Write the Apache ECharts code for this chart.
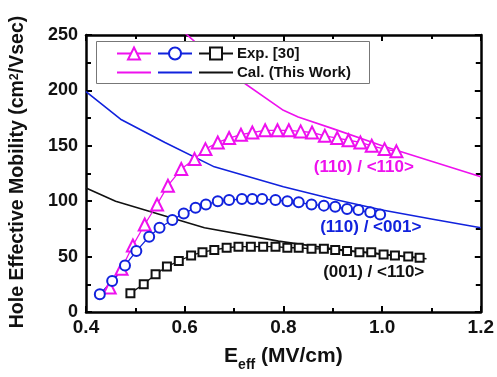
<!DOCTYPE html>
<html>
<head>
<meta charset="utf-8">
<script src="https://cdn.jsdelivr.net/npm/echarts@6/dist/echarts.min.js"></script>
<style>
  html, body { margin: 0; padding: 0; background: #fff; }
  #chart { width: 497px; height: 377px; }
</style>
</head>
<body>
<div id="chart"></div>
<script>
// Exp. [30] data: Eeff (MV/cm) and mobility (cm2/Vsec)
const exp110_110_E = [0.448, 0.472, 0.495, 0.519, 0.544, 0.566, 0.593, 0.620, 0.642, 0.667, 0.690, 0.714, 0.737, 0.763, 0.788, 0.811, 0.835, 0.858, 0.884, 0.909, 0.932, 0.956, 0.979, 1.005, 1.029];
const exp110_110_mu = [22, 39, 60, 79, 97, 114, 129, 138, 147, 153, 157, 160, 162, 164, 164, 164, 163, 162, 159, 157, 155, 153, 150, 147, 145];

const exp110_001_E = [0.428, 0.453, 0.479, 0.502, 0.528, 0.549, 0.575, 0.598, 0.622, 0.643, 0.667, 0.690, 0.716, 0.737, 0.757, 0.784, 0.808, 0.831, 0.857, 0.882, 0.905, 0.929, 0.952, 0.976, 0.996];
const exp110_001_mu = [16, 28, 42, 55, 68, 76, 83, 89, 94, 97, 100, 101, 102, 102, 102, 101, 100, 99, 97, 96, 95, 93, 92, 90, 88];

const exp001_110_E = [0.490, 0.517, 0.541, 0.564, 0.588, 0.613, 0.636, 0.660, 0.685, 0.709, 0.734, 0.759, 0.784, 0.808, 0.831, 0.857, 0.882, 0.905, 0.929, 0.954, 0.978, 1.003, 1.026, 1.053, 1.076];
const exp001_110_mu = [17, 25, 34, 41, 46, 51, 54, 56, 58, 59, 59, 59, 59, 58, 58, 57, 57, 56, 55, 54, 54, 52, 51, 50, 49];

// Calculated (This Work)
const cal110_110_E = [0.6, 0.7, 0.8, 0.83, 0.9, 1.0, 1.1, 1.2];
const cal110_110_mu = [252, 213, 182, 176, 165.5, 150, 136, 122];

const cal110_001_E = [0.4, 0.47, 0.56, 0.66, 0.8, 0.9, 1.0, 1.1, 1.2];
const cal110_001_mu = [199, 174, 153, 131, 113, 102, 92, 84, 76];

const cal001_110_E = [0.4, 0.46, 0.55, 0.64, 0.79, 0.9, 1.0, 1.09];
const cal001_110_mu = [112, 100, 88, 76, 64, 57, 52, 48];

// curve labels in data coordinates
const curveLabels = [
  { text: "(110) / <110>", E: 0.963, mu: 131, color: "#ee11ee" },
  { text: "(110) / <001>", E: 0.977, mu: 76, color: "#1122dd" },
  { text: "(001) / <110>", E: 0.983, mu: 36, color: "#111111" },
];

const MAG = "#ee11ee";
const BLUE = "#1122dd";
const BLK = "#111111";

const zip = (xs, ys) => xs.map((x, i) => [x, ys[i]]);

const chart = echarts.init(document.getElementById("chart"));

const axisText = { fontFamily: "Liberation Sans, Arial", fontWeight: "bold", color: "#111" };

const frameX = (pos, showLabel) => ({
  type: "value",
  position: pos,
  min: 0.4,
  max: 1.2,
  interval: 0.2,
  axisLine: { show: true, onZero: false, lineStyle: { color: "#000", width: 2.5 } },
  axisTick: { show: true, inside: true, length: 6, lineStyle: { color: "#000", width: 2 } },
  minorTick: { show: true, splitNumber: 2, length: 4, lineStyle: { color: "#000", width: 2 } },
  splitLine: { show: false },
  axisLabel: {
    show: showLabel,
    ...axisText,
    fontSize: 19,
    margin: 6,
    formatter: (v) => v.toFixed(1),
  },
});

const frameY = (pos, showLabel) => ({
  type: "value",
  position: pos,
  min: 0,
  max: 250,
  interval: 50,
  axisLine: { show: true, onZero: false, lineStyle: { color: "#000", width: 2.5 } },
  axisTick: { show: true, inside: true, length: 6, lineStyle: { color: "#000", width: 2 } },
  minorTick: { show: true, splitNumber: 2, length: 5, lineStyle: { color: "#000", width: 2 } },
  splitLine: { show: false },
  axisLabel: { show: showLabel, ...axisText, fontSize: 18, margin: 8 },
});

const expSeries = (name, E, mu, color, symbol, size) => ({
  name,
  type: "line",
  data: zip(E, mu),
  symbol,
  symbolSize: size,
  showSymbol: true,
  lineStyle: { color, width: 1.3 },
  itemStyle: { color, borderColor: color, borderWidth: 1.8 },
  z: 3,
});

const calSeries = (name, E, mu, color) => ({
  name,
  type: "line",
  data: zip(E, mu),
  symbol: "none",
  lineStyle: { color, width: 1.6 },
  itemStyle: { color },
  clip: true,
  z: 2,
});

const legendCommon = {
  orient: "horizontal",
  padding: 0,
  itemWidth: 34,
  itemHeight: 15,
  itemGap: 5,
  selectedMode: false,
  textStyle: { fontFamily: "Liberation Sans, Arial", fontWeight: "bold", fontSize: 15, color: "#111", padding: [0, 0, 0, -1] },
};

const option = {
  animation: false,
  backgroundColor: "#fff",
  grid: { left: 86, right: 14, top: 35, bottom: 64 },
  xAxis: [
    {
      ...frameX("bottom", true),
      name: "{e|E}{sub|eff}{n| (MV/cm)}",
      nameLocation: "middle",
      nameGap: 34,
      nameTextStyle: {
        rich: {
          e: { ...axisText, fontSize: 21, verticalAlign: "bottom", padding: [0, 0, 5, 0] },
          sub: { ...axisText, fontSize: 14, verticalAlign: "bottom" },
          n: { ...axisText, fontSize: 21, verticalAlign: "bottom", padding: [0, 0, 5, 0] },
        },
      },
    },
    frameX("top", false),
  ],
  yAxis: [frameY("left", true), frameY("right", false)],
  legend: [
    {
      ...legendCommon,
      left: 116,
      top: 46,
      data: ["exp110_110", "exp110_001", "Exp. [30]"],
      formatter: (n) => (n.startsWith("Exp") ? n : ""),
    },
    {
      ...legendCommon,
      left: 116,
      top: 65,
      itemStyle: { opacity: 0 },
      data: ["cal110_110", "cal110_001", "Cal. (This Work)"],
      formatter: (n) => (n.startsWith("Cal") ? n : ""),
    },
  ],
  graphic: [
    {
      type: "rect",
      shape: { x: 96.5, y: 41.5, width: 273, height: 42 },
      style: { fill: "#fff", stroke: "#777", lineWidth: 1 },
      z: 3,
    },
    {
      // y-axis title, rotated
      type: "text",
      x: 18,
      y: 172,
      rotation: Math.PI / 2,
      style: {
        text: "{t|Hole Effective Mobility (cm}{sup|2}{t|/Vsec)}",
        align: "center",
        verticalAlign: "middle",
        rich: {
          t: { ...axisText, fill: "#111", fontSize: 19.5, verticalAlign: "bottom" },
          sup: { ...axisText, fill: "#111", fontSize: 12.5, verticalAlign: "top" },
        },
      },
      z: 5,
    },
  ],
  series: [
    calSeries("cal110_110", cal110_110_E, cal110_110_mu, MAG),
    calSeries("cal110_001", cal110_001_E, cal110_001_mu, BLUE),
    calSeries("Cal. (This Work)", cal001_110_E, cal001_110_mu, BLK),
    expSeries("exp110_110", exp110_110_E, exp110_110_mu, MAG, "emptyTriangle", 12),
    expSeries("exp110_001", exp110_001_E, exp110_001_mu, BLUE, "emptyCircle", 10),
    expSeries("Exp. [30]", exp001_110_E, exp001_110_mu, BLK, "emptyRect", 8),
    {
      name: "labels",
      type: "scatter",
      data: curveLabels.map((l) => ({
        value: [l.E, l.mu],
        label: { formatter: l.text, color: l.color },
      })),
      symbolSize: 1,
      itemStyle: { color: "rgba(0,0,0,0)", opacity: 1 },
      label: {
        show: true,
        position: "inside",
        fontFamily: "Liberation Sans, Arial",
        fontWeight: "bold",
        fontSize: 17,
      },
      silent: true,
      z: 4,
    },
  ],
};

chart.setOption(option);
</script>
</body>
</html>
